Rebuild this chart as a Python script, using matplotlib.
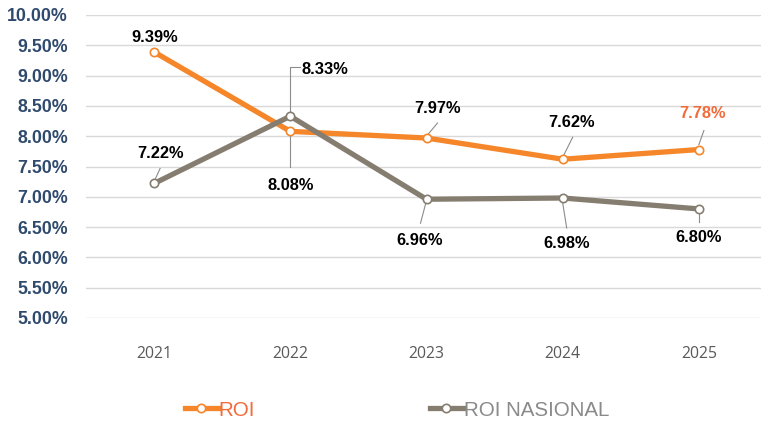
import matplotlib
matplotlib.use("Agg")
import matplotlib.pyplot as plt
from matplotlib.lines import Line2D
from matplotlib.transforms import offset_copy

years = ["2021", "2022", "2023", "2024", "2025"]
roi = [9.39, 8.08, 7.97, 7.62, 7.78]
roi_nasional = [7.22, 8.33, 6.96, 6.98, 6.80]
yticks = [5.0, 5.5, 6.0, 6.5, 7.0, 7.5, 8.0, 8.5, 9.0, 9.5, 10.0]

C_ROI = "#F5862A"
C_NAS = "#857D70"

fig = plt.figure(figsize=(7.61, 4.25), dpi=100)
W, H = 761, 425
left, right = 86, 767
top, bottom = 15, 318
ax = fig.add_axes([left / W, (H - bottom) / H, (right - left) / W, (bottom - top) / H])

x = list(range(len(years)))
line_kw = dict(lw=3.8, marker="o", ms=6, mfc="white", mew=1.2, solid_capstyle="butt", zorder=3)
ax.plot(x, roi, color=C_ROI, mec=C_ROI, **line_kw)
ax.plot(x, roi_nasional, color=C_NAS, mec=C_NAS, **line_kw)

ax.set_xlim(-0.5, len(years) - 0.5)
ax.set_ylim(5.0, 10.0)
ax.set_yticks(yticks)
ax.set_yticklabels([f"{v:.2f}%" for v in yticks], fontsize=12.8, fontweight="bold",
                   color="#2F4A6D", family="Liberation Sans")
ax.set_xticks(x)
ax.set_xticklabels(years, fontsize=11.3, color="#595959", family="Open Sans")
ax.tick_params(axis="both", length=0)
ax.tick_params(axis="y", pad=13)
ax.tick_params(axis="x", pad=20)
ax.grid(axis="y", color="#D9D9D9", lw=1)
ax.set_axisbelow(True)
for s in ax.spines.values():
    s.set_visible(False)

lab_kw = dict(fontsize=11.8, fontweight="bold", family="Liberation Sans", ha="center", va="center", zorder=5)
lc = "#8C8C8C"


def label(i, val, dx, dy, color="black"):
    # dx, dy in pixels (dy positive = up)
    ax.annotate(f"{val:.2f}%", xy=(i, val), xytext=(dx, dy), textcoords="offset pixels",
                color=color, **lab_kw)


def leader(i, val, pts):
    # pts: offsets in pixels from the data point (dy positive = up)
    inv = ax.transData.inverted()
    dpts = []
    for (px, py) in pts:
        tr = offset_copy(ax.transData, fig=fig, x=px, y=py, units="dots")
        dpts.append(inv.transform(tr.transform((i, val))))
    ax.plot([p[0] for p in dpts], [p[1] for p in dpts], color=lc, lw=0.8, zorder=2.5, clip_on=False)


# ROI labels
label(0, roi[0], 1, 14)
label(1, roi[1], 0, -54)
leader(1, roi[1], [(0, -5), (0, -36)])
label(2, roi[2], 11, 30)
leader(2, roi[2], [(1, 3), (11, 15)])
label(3, roi[3], 9, 37)
leader(3, roi[3], [(1, 4), (10, 22)])
label(4, roi[4], 4, 36, color="#F26B3A")
leader(4, roi[4], [(0, 5), (5, 19)])

# ROI NASIONAL labels
label(0, roi_nasional[0], 6, 30)
leader(0, roi_nasional[0], [(1, 4), (6, 15)])
label(1, roi_nasional[1], 35, 47)
leader(1, roi_nasional[1], [(0, 5), (0, 49), (10, 49)])
label(2, roi_nasional[2], -7, -41)
leader(2, roi_nasional[2], [(-1, -5), (-6, -24)])
label(3, roi_nasional[3], 4, -45)
leader(3, roi_nasional[3], [(0, -5), (4, -30)])
label(4, roi_nasional[4], 0, -29)
leader(4, roi_nasional[4], [(0, -5), (0, -13)])

# Legends (two separate, positioned like the reference)
series_names = ["ROI", "ROI NASIONAL"]
colors = [C_ROI, C_NAS]
text_colors = ["#F26B3A", "#8A8A8A"]
starts = [185, 430]
for name, c, tc, sx in zip(series_names, colors, text_colors, starts):
    h = Line2D([], [], color=c, mec=c, **{k: v for k, v in line_kw.items() if k not in ("zorder", "solid_capstyle")})
    leg = fig.legend([h], [name], loc="center left", bbox_to_anchor=(sx / W, (H - 410) / H),
                     frameon=False, handlelength=1.6, handletextpad=0.03, borderpad=0,
                     borderaxespad=0, prop={"family": "Liberation Sans", "size": 14.8})
    leg.get_texts()[0].set_color(tc)

fig.savefig("out.png", dpi=100)
